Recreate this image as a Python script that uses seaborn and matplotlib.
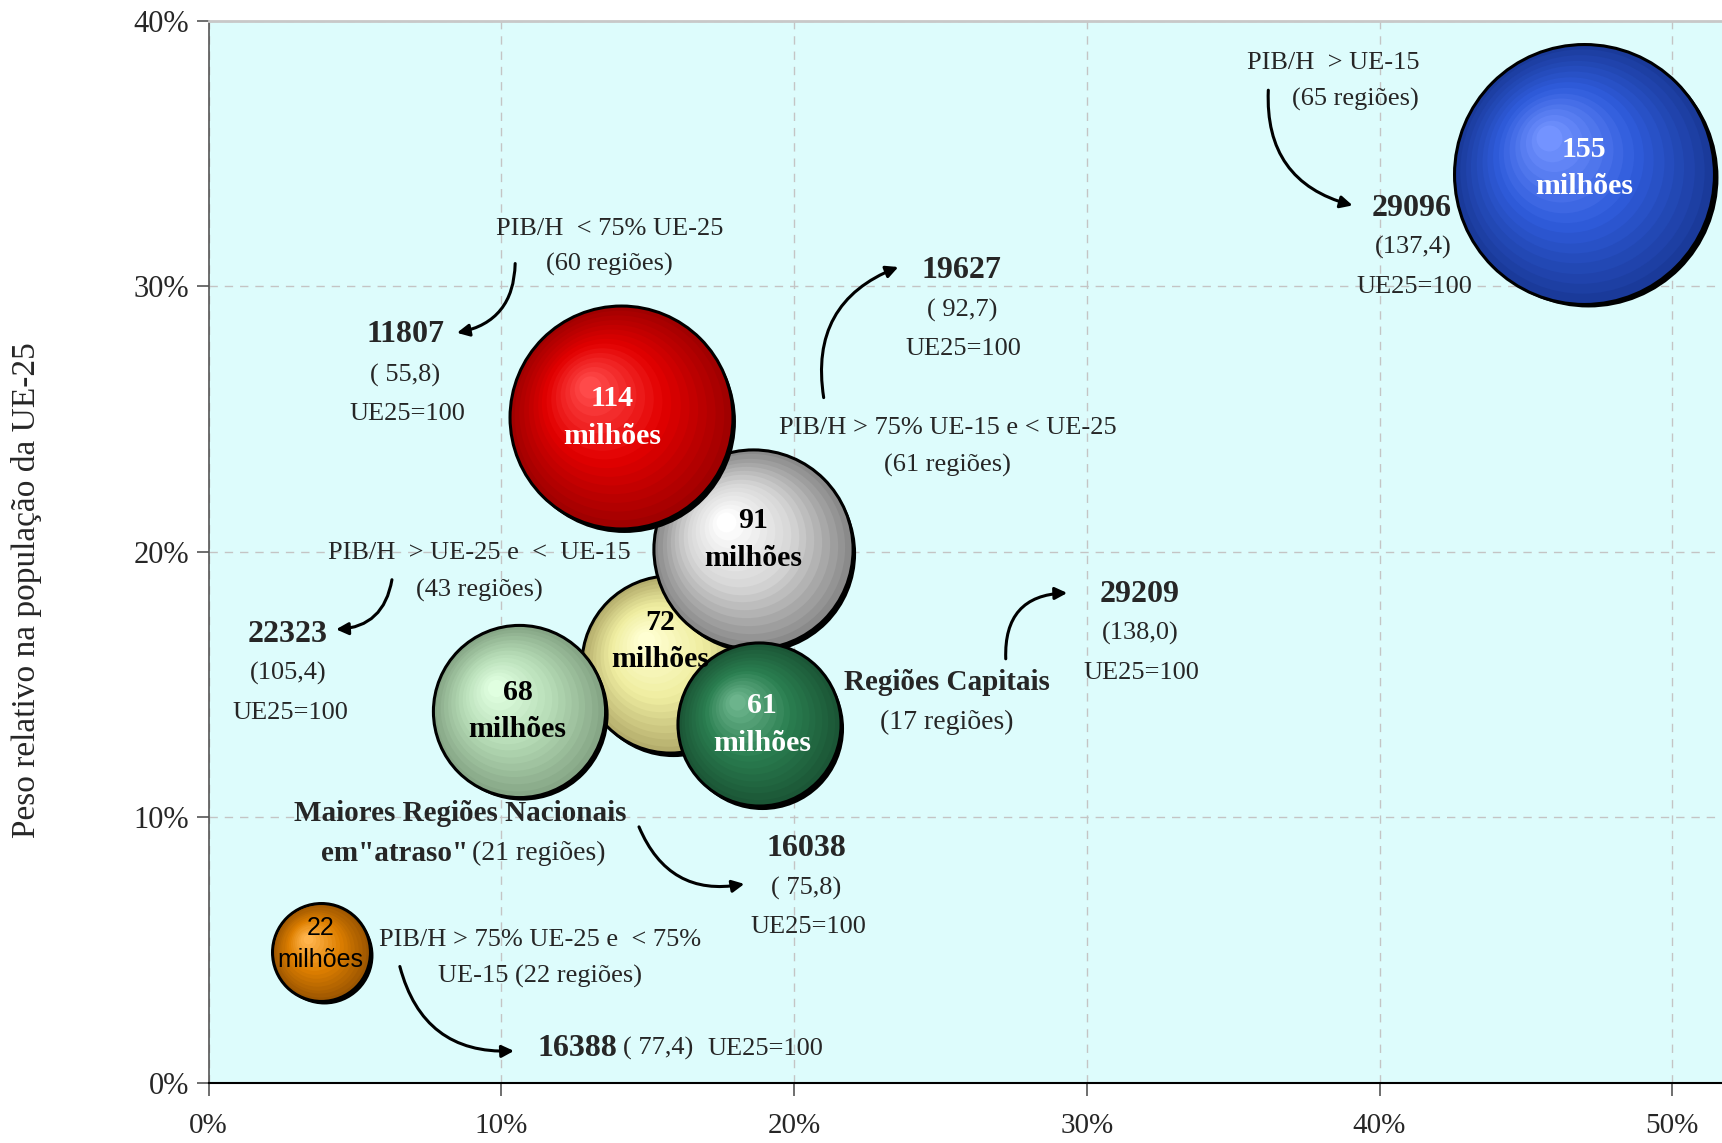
import numpy as np
import pandas as pd
import matplotlib
matplotlib.use("Agg")
import matplotlib.pyplot as plt
import matplotlib.transforms as mtrans
from matplotlib.colors import to_rgb
from matplotlib.ticker import PercentFormatter, MultipleLocator
import seaborn as sns

# --- dados (ordem de desenho: de tras para a frente) ---
grupos = ["PIB/H > UE-25 e < UE-15", "PIB/H > 75% UE-15 e < UE-25",
          "PIB/H < 75% UE-25", "Regiões Capitais",
          "Maiores Regiões Nacionais em atraso", "PIB/H > UE-15",
          "PIB/H > 75% UE-25 e < 75% UE-15"]
peso_pib = [0.1575, 0.186, 0.1407, 0.188, 0.106, 0.470, 0.0383]
peso_pop = [0.1576, 0.201, 0.2507, 0.135, 0.140, 0.3425, 0.0492]
populacao = [72, 91, 114, 61, 68, 155, 22]
cor_fora = ["#b4ad6c", "#8a8a8a", "#a00000", "#1b5636", "#86a686", "#1a3a9a", "#9c5600"]
cor_meio = ["#efeda0", "#d6d6d6", "#e20000", "#2a7e50", "#b6dcb6", "#2f5cdc", "#de7f00"]
cor_dentro = ["#ffffd2", "#ffffff", "#ff4a4a", "#6cb48c", "#e0ffe0", "#7393ff", "#ffb44c"]
cor_texto = ["black", "black", "white", "white", "black", "white", "black"]

df = pd.DataFrame({"grupo": grupos, "x": peso_pib, "y": peso_pop, "pop": populacao})

sns.set_style("ticks")
plt.rcParams['font.family'] = ['Liberation Serif', 'DejaVu Serif']
plt.rcParams['hatch.color'] = 'white'
plt.rcParams['hatch.linewidth'] = 1.2

fig = plt.figure(figsize=(17.22, 11.43), dpi=100)
ax = fig.add_axes([0.1212, 0.0527, 0.8788, 0.929])
ax.set_facecolor("#ddfcfc")
ax.patch.set_hatch("..")

ax.set_xlim(0, 0.517)
ax.set_ylim(0, 0.40)
ax.xaxis.set_major_locator(MultipleLocator(0.1))
ax.yaxis.set_major_locator(MultipleLocator(0.1))
ax.xaxis.set_major_formatter(PercentFormatter(1.0, decimals=0))
ax.yaxis.set_major_formatter(PercentFormatter(1.0, decimals=0))
ax.grid(True, color="#c4c4c4", linestyle=(0, (6, 5)), linewidth=1)
ax.set_axisbelow(True)
ax.tick_params(axis="x", length=9, width=1.2, pad=13, labelsize=21, color="#555555")
ax.tick_params(axis="y", length=9, width=1.2, pad=5, labelsize=22, color="#555555")
ax.spines["right"].set_visible(False)
ax.spines["top"].set_color("#c8c8c8")
ax.spines["top"].set_linewidth(2)
ax.spines["left"].set_color("#555555")
ax.spines["left"].set_linewidth(1.2)
ax.spines["bottom"].set_color("black")
ax.spines["bottom"].set_linewidth(1.5)

k_area = 226  # pontos^2 por milhao de habitantes
n_camadas = 16


def mistura(c1, c2, t):
    a, b = np.array(to_rgb(c1)), np.array(to_rgb(c2))
    return a + (b - a) * t


for i, row in df.iterrows():
    s = k_area * row["pop"]
    raio = np.sqrt(s) / 2
    # sombra
    sombra = mtrans.offset_copy(ax.transData, fig=fig, x=2.4, y=-2.4, units="points")
    ax.scatter([row["x"]], [row["y"]], s=s, color="black", linewidth=0,
               transform=sombra, zorder=3)
    sns.scatterplot(x=[row["x"]], y=[row["y"]], s=s, color=cor_fora[i],
                    edgecolor="black", linewidth=2.2, ax=ax, zorder=3, legend=False)
    for k in range(1, n_camadas):
        t = k / (n_camadas - 1)
        r = 1 - 0.9 * t
        if t < 0.5:
            c = mistura(cor_fora[i], cor_meio[i], t / 0.5)
        else:
            c = mistura(cor_meio[i], cor_dentro[i], (t - 0.5) / 0.5)
        desl = (1 - r) * 0.30 * raio
        tr = mtrans.offset_copy(ax.transData, fig=fig, x=-desl, y=desl, units="points")
        ax.scatter([row["x"]], [row["y"]], s=s * r * r, color=c, linewidth=0,
                   transform=tr, zorder=3)

# rotulos dentro das bolhas (deslocamento em pontos)
desl_x = [-7, 0, -6, 2, -1, 0, 0]
desl_y = [17, 7, 0, 0, 0, 4, 6]
for i, row in df.iterrows():
    tr = mtrans.offset_copy(ax.transData, fig=fig, x=desl_x[i], y=desl_y[i], units="points")
    if row["pop"] == 22:
        ax.text(row["x"], row["y"], f"{row['pop']}\nmilhões", transform=tr,
                ha="center", va="center", fontsize=18, family="Liberation Sans",
                color=cor_texto[i], zorder=5, linespacing=1.45)
    else:
        ax.text(row["x"], row["y"], f"{row['pop']}\nmilhões", transform=tr,
                ha="center", va="center", fontsize=21.5, fontweight="bold",
                color=cor_texto[i], zorder=5, linespacing=1.5)

# textos e setas
textos = [
    (0.3841, 0.3843, "PIB/H  > UE-15", 19, "normal", "center"),
    (0.3916, 0.3706, "(65 regiões)", 19, "normal", "center"),
    (0.4111, 0.3293, "29096", 23, "bold", "center"),
    (0.4115, 0.3148, "(137,4)", 19, "normal", "center"),
    (0.4118, 0.2999, "UE25=100", 19, "normal", "center"),
    (0.1369, 0.3218, "PIB/H  < 75% UE-25", 19, "normal", "center"),
    (0.1369, 0.3082, "(60 regiões)", 19, "normal", "center"),
    (0.0671, 0.2817, "11807", 23, "bold", "center"),
    (0.0671, 0.2664, "( 55,8)", 19, "normal", "center"),
    (0.0679, 0.2519, "UE25=100", 19, "normal", "center"),
    (0.2573, 0.3061, "19627", 23, "bold", "center"),
    (0.2573, 0.2908, "( 92,7)", 19, "normal", "center"),
    (0.2577, 0.2763, "UE25=100", 19, "normal", "center"),
    (0.2524, 0.2465, "PIB/H > 75% UE-15 e < UE-25", 19, "normal", "center"),
    (0.2524, 0.2325, "(61 regiões)", 19, "normal", "center"),
    (0.0926, 0.1994, "PIB/H  > UE-25 e  <  UE-15", 19, "normal", "center"),
    (0.0926, 0.1853, "(43 regiões)", 19, "normal", "center"),
    (0.0270, 0.1688, "22323", 23, "bold", "center"),
    (0.0270, 0.1543, "(105,4)", 19, "normal", "center"),
    (0.0278, 0.1394, "UE25=100", 19, "normal", "center"),
    (0.2521, 0.1506, "Regiões Capitais", 21, "bold", "center"),
    (0.2521, 0.1357, "(17 regiões)", 20, "normal", "center"),
    (0.3181, 0.1841, "29209", 23, "bold", "center"),
    (0.3181, 0.1692, "(138,0)", 19, "normal", "center"),
    (0.3188, 0.1543, "UE25=100", 19, "normal", "center"),
    (0.0859, 0.1013, "Maiores Regiões Nacionais", 21, "bold", "center"),
    (0.0885, 0.0865, "em\"atraso\"", 21, "bold", "right"),
    (0.0900, 0.0865, "(21 regiões)", 20, "normal", "left"),
    (0.2041, 0.0881, "16038", 23, "bold", "center"),
    (0.2041, 0.0732, "( 75,8)", 19, "normal", "center"),
    (0.2048, 0.0587, "UE25=100", 19, "normal", "center"),
    (0.1133, 0.0538, "PIB/H > 75% UE-25 e  < 75%", 19, "normal", "center"),
    (0.1133, 0.0401, "UE-15 (22 regiões)", 19, "normal", "center"),
    (0.1122, 0.0128, "16388", 23, "bold", "left"),
    (0.1414, 0.0128, "( 77,4)", 19, "normal", "left"),
    (0.1703, 0.0128, "UE25=100", 19, "normal", "left"),
]
for x, y, txt, tam, peso, ha in textos:
    ax.text(x, y, txt, ha=ha, va="center", fontsize=tam, fontweight=peso, zorder=5)

setas = [
    ((0.3620, 0.3739), (0.3908, 0.3305), 0.4),
    ((0.1047, 0.3086), (0.0848, 0.2825), -0.4),
    ((0.2101, 0.2581), (0.2356, 0.3073), -0.4),
    ((0.0626, 0.1895), (0.0435, 0.1708), -0.4),
    ((0.2723, 0.1597), (0.2933, 0.1845), -0.5),
    ((0.1470, 0.0964), (0.1830, 0.0749), 0.4),
    ((0.0653, 0.0438), (0.1043, 0.0120), 0.4),
]
for ini, fim, rad in setas:
    ax.annotate("", xy=fim, xytext=ini, zorder=5,
                arrowprops=dict(arrowstyle="-|>", color="black", lw=2.2,
                                mutation_scale=18, shrinkA=0, shrinkB=0,
                                connectionstyle=f"arc3,rad={rad}"))

fig.text(27 / 1722, 1 - 590 / 1143, "Peso relativo na população da UE-25",
         rotation=90, ha="center", va="center", fontsize=24)

fig.savefig("out.png", dpi=100)
